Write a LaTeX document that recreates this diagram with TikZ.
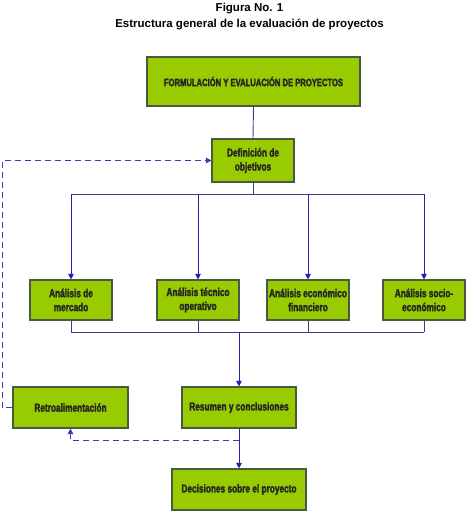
\documentclass[tikz,border=0pt]{standalone}
\usepackage{fontspec}
\setmainfont{Liberation Sans}
\newfontfamily\boxfont[FakeStretch=0.72,FakeBold=2.2]{Liberation Sans Bold}
\usetikzlibrary{arrows.meta}
\definecolor{boxgreen}{HTML}{99CC00}
\definecolor{boxedge}{HTML}{4A5A40}
\definecolor{busline}{HTML}{3C3C80}
\definecolor{arrowblue}{HTML}{2222B0}
\definecolor{dashblue}{HTML}{3A3AC0}
\begin{document}
\begin{tikzpicture}[x=1pt,y=-1pt,
  gbox/.style={draw=boxedge,line width=1.1pt,fill=boxgreen,inner sep=1pt,
    align=center,font=\boxfont\fontsize{11.5}{14}\selectfont,text=black!85},
  bus/.style={draw=busline,line width=0.9pt},
  arr/.style={draw=arrowblue,line width=0.9pt,-{Triangle[width=5.5pt,length=5.5pt]}},
  fb/.style={draw=dashblue,line width=1pt,dash pattern=on 6pt off 4pt,-{Triangle[width=5.5pt,length=5.5pt]}},
  titletext/.style={font=\bfseries\fontsize{11.5}{13}\selectfont,align=center}]
\useasboundingbox (0,0) rectangle (474,517);
\node[titletext] (t1) at (249.5,9) {Figura No. 1};
\node[titletext] (t2) at (249.5,24) {Estructura general de la evaluación de proyectos};

\node[gbox,minimum width=213pt,minimum height=49pt,font=\boxfont\fontsize{10.6}{13}\selectfont] (top) at (253.5,81.5) {FORMULACIÓN Y EVALUACIÓN DE PROYECTOS};
\node[gbox,minimum width=82pt,minimum height=43pt] (def) at (253,160.5) {Definición de\\objetivos};
\node[gbox,minimum width=82pt,minimum height=40pt] (am) at (71,300) {Análisis de\\mercado};
\node[gbox,minimum width=82pt,minimum height=40pt] (at) at (198,300) {Análisis técnico\\operativo};
\node[gbox,minimum width=82pt,minimum height=40pt] (ae) at (308,300) {Análisis económico\\financiero};
\node[gbox,minimum width=82pt,minimum height=40pt] (as) at (424,300) {Análisis socio-\\económico};
\node[gbox,minimum width=114pt,minimum height=41pt] (res) at (239,407.5) {Resumen y conclusiones};
\node[gbox,minimum width=115pt,minimum height=41pt] (ret) at (70.5,407.5) {Retroalimentación};
\node[gbox,minimum width=134pt,minimum height=41pt] (dec) at (239,489.5) {Decisiones sobre el proyecto};

\coordinate (b1) at (253,194);
\coordinate (b2) at (239,332);
\coordinate (fbp) at (239,440);
\coordinate (lx) at (2,300);

\draw[bus] (top.south) -- (def.north);
\draw[bus] (def.south) -- (b1);
\draw[bus] (b1 -| am.north) -- (b1 -| as.north);
\foreach \n in {am,at,ae,as}{
  \draw[arr] (b1 -| \n.north) -- (\n.north);
  \draw[bus] (\n.south) -- (b2 -| \n.south);
}
\draw[bus] (b2 -| am.south) -- (b2 -| as.south);
\draw[arr] (b2) -- (res.north);
\draw[arr] (res.south) -- (dec.north);
\draw[fb] (fbp) -| (ret.south);
\draw[fb] (ret.west) -| (lx) |- (def.west);
\end{tikzpicture}
\end{document}
